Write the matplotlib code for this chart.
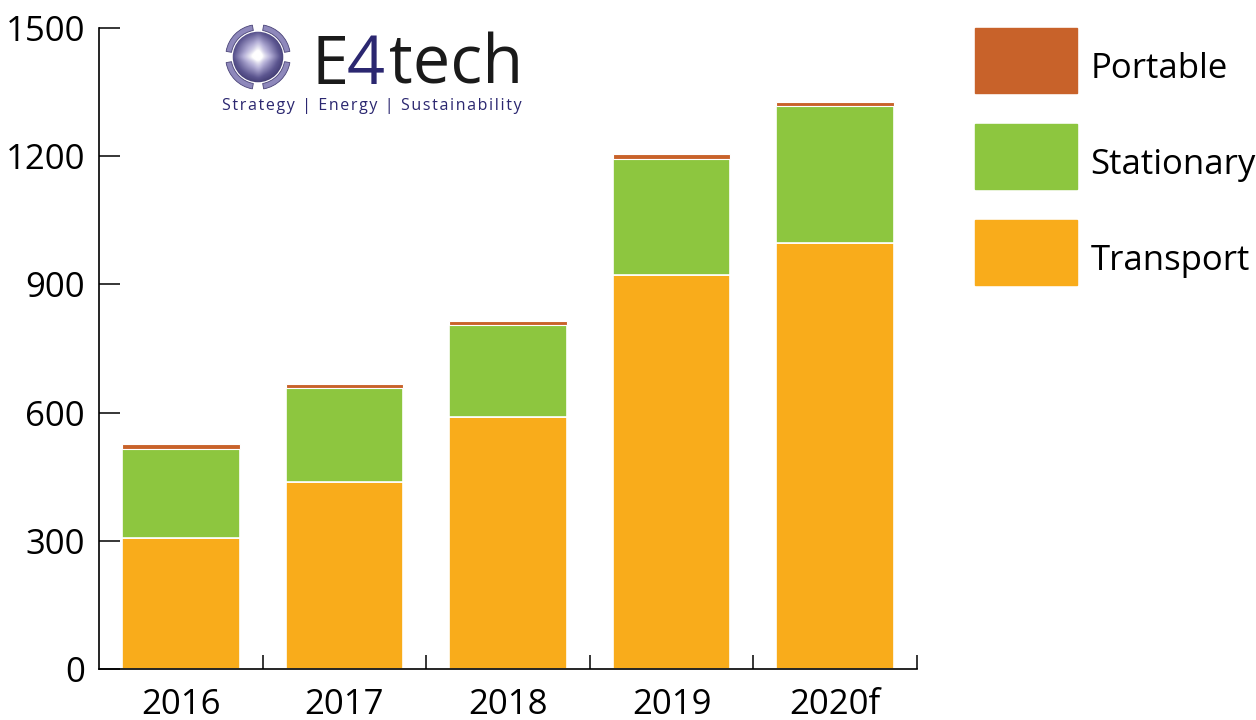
import numpy as np
import matplotlib
matplotlib.use("Agg")
import matplotlib.pyplot as plt
from matplotlib.patches import Wedge, Circle
from matplotlib.colors import LinearSegmentedColormap

plt.rcParams['font.family'] = ['Open Sans', 'DejaVu Sans']

# data (MW shipped)
years = ["2016", "2017", "2018", "2019", "2020f"]
transport = [306, 437, 589, 923, 997]
stationary = [208, 220, 217, 271, 320]
portable = [12, 10, 9, 12, 11]

c_transport = "#F9AC1B"
c_stationary = "#8DC63F"
c_portable = "#C8622A"

fig = plt.figure(figsize=(12.56, 7.2), dpi=100)
ax = fig.add_axes([99/1256, 1-669/720, (917-99)/1256, (669-28)/720])

x = np.arange(len(years))
bottom2 = np.array(transport)
bottom3 = bottom2 + np.array(stationary)
w = 0.72
ax.bar(x, transport, w, color=c_transport, edgecolor="white", linewidth=1.2, label="Transport")
ax.bar(x, stationary, w, bottom=bottom2, color=c_stationary, edgecolor="white", linewidth=1.2, label="Stationary")
ax.bar(x, portable, w, bottom=bottom3, color=c_portable, edgecolor="white", linewidth=0.8, label="Portable")

ax.set_xlim(-0.5, 4.5)
ax.set_ylim(0, 1500)
ax.set_yticks([0, 300, 600, 900, 1200, 1500])
ax.set_xticks(x)
ax.set_xticklabels(years)
ax.set_xticks(x + 0.5, minor=True)
ax.tick_params(axis="x", which="major", length=0, pad=14, labelsize=25)
ax.tick_params(axis="x", which="minor", direction="in", length=10, width=1.1, color="black")
ax.tick_params(axis="y", direction="in", length=15, width=1.1, pad=10, labelsize=25)
for s in ["top", "right"]:
    ax.spines[s].set_visible(False)
for s in ["left", "bottom"]:
    ax.spines[s].set_linewidth(1.2)

# legend, Portable on top
h, l = ax.get_legend_handles_labels()
leg_handles = [plt.Rectangle((0, 0), 1, 1, color=c) for c in [c_portable, c_stationary, c_transport]]
leg = fig.legend(leg_handles, l[::-1], loc="upper left", bbox_to_anchor=(975/1256, 1-28/720),
                 frameon=False, fontsize=25, handlelength=2.95, handleheight=2.5,
                 handletextpad=0.37, labelspacing=0.89, borderpad=0, borderaxespad=0)
for t in leg.get_texts():
    t.set_y(-7)  # sit the labels a bit lower, centred on the boxes

# logo
lax = fig.add_axes([224/1256, 1-91/720, 68/1256, 68/720])
lax.set_xlim(-1.05, 1.05)
lax.set_ylim(-1.05, 1.05)
lax.set_aspect("equal")
lax.axis("off")
gx, gy = np.meshgrid(np.linspace(-1, 1, 200), np.linspace(-1, 1, 200))
r = np.sqrt((gx + 0.05)**2 + (gy - 0.05)**2)
cross = np.exp(-(gx / 0.12)**2) + np.exp(-(gy / 0.12)**2)
val = np.clip(r - 0.15 * cross * (1 - r), 0, 1)
cmap = LinearSegmentedColormap.from_list("sph", ["#ffffff", "#b3aed6", "#5c5690", "#2f2a5e"])
im = lax.imshow(val, cmap=cmap, extent=(-1, 1, -1, 1), origin="lower", vmin=0, vmax=1)
im.set_clip_path(Circle((0, 0), 0.78, transform=lax.transData))
for a in [10, 100, 190, 280]:
    lax.add_patch(Wedge((0, 0), 1.0, a, a + 70, width=0.17, facecolor="#8e88bb", edgecolor="#4a4478", lw=0.6))

fig.text(311/1256, 1-84/720, "E", fontsize=48, color="#1a1a1a", ha="left", va="baseline")
fig.text(347/1256, 1-84/720, "4", fontsize=48, color="#2b2770", ha="left", va="baseline")
fig.text(389/1256, 1-84/720, "tech", fontsize=48, color="#1a1a1a", ha="left", va="baseline")
tagline = "Strategy | Energy | Sustainability"
fig.text(372/1256, 1-106/720, "\u200a".join(tagline), fontsize=11.5,
         color="#2b2770", ha="center", va="center")

fig.savefig("out.png", dpi=100)
